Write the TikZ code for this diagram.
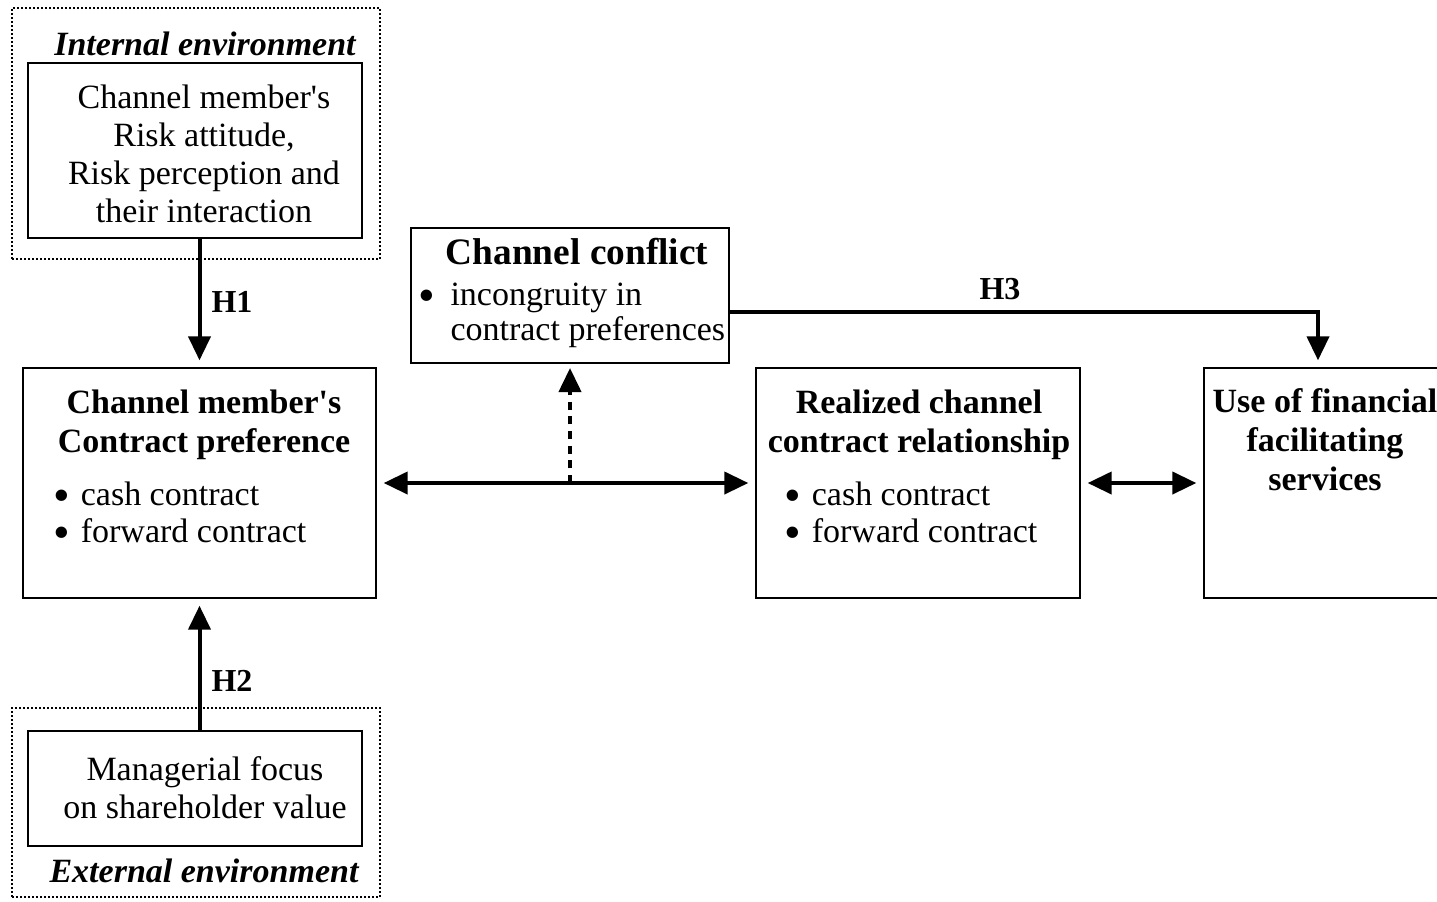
\documentclass[tikz,border=0pt]{standalone}
\usepackage{fontspec}
\setmainfont{Liberation Serif}
\usetikzlibrary{arrows.meta}

\tikzset{every picture/.style={line width=0.75pt}}
\tikzset{
	framebox/.style={draw, line width=1.5pt, inner sep=0pt},
	envframe/.style={draw, line width=1.5pt, dash pattern=on 1.5pt off 1.5pt, inner sep=0pt},
	bodytext/.style={inner sep=0pt, font=\fontsize{25.5pt}{28.5pt}\selectfont},
	listtext/.style={inner sep=0pt, align=left, font=\fontsize{25.5pt}{27.75pt}\selectfont},
	headtext/.style={inner sep=0pt, align=center, font=\fontsize{25.5pt}{29.25pt}\selectfont\bfseries},
	envtext/.style={inner sep=0pt, font=\fontsize{25.5pt}{28.5pt}\selectfont\bfseries\itshape},
	hyplabel/.style={inner sep=0pt, font=\fontsize{24pt}{28pt}\selectfont\bfseries},
	bigtip/.tip={Triangle[length=18pt,width=16.5pt]},
	causal/.style={line width=3pt, -bigtip, shorten >=5pt},
	mutual/.style={line width=3pt, bigtip-bigtip, shorten >=5pt, shorten <=5pt},
	effect/.style={line width=3pt, dash pattern=on 6pt off 5pt, -bigtip, shorten >=3pt},
}
\newcommand{\bigdot}{\smash{\raisebox{-4.5pt}{\scalebox{1.4}{\textbullet}}}}
\newcommand{\listdot}{\bigdot\hspace{8pt}}

\begin{document}
\begin{tikzpicture}[x=0.75pt,y=0.75pt,yscale=-1,xscale=1]
	\useasboundingbox (0,0) rectangle (1437,901);

	% Internal environment
	\node[envframe, minimum width=276pt, minimum height=188.25pt] (intframe) at (196,133.5) {};
	\node[envtext, anchor=base] (inttitle) at (205,55) {Internal environment};
	\node[framebox, minimum width=250.5pt, minimum height=131.25pt] (riskbox) at (195,150.5) {};
	\node[bodytext, align=center, anchor=base] (risktext) at (204,222) {Channel member\textquotesingle s\\Risk attitude,\\Risk perception and\\their interaction};

	% Contract preference
	\node[framebox, minimum width=264.75pt, minimum height=172.5pt] (prefbox) at (199.5,483) {};
	\node[headtext, anchor=base] (preftitle) at (204,452) {Channel member\textquotesingle s\\Contract preference};
	\node[listtext, anchor=base west] (preflist) at (53,542) {\listdot cash contract\\\listdot forward contract};

	% Channel conflict
	\node[framebox, minimum width=238.5pt, minimum height=101.25pt] (conflictbox) at (570,295.5) {};
	\node[inner sep=0pt, font=\fontsize{28pt}{32pt}\selectfont\bfseries, anchor=base] (conflicttitle) at (577,264) {Channel conflict};
	\node[bodytext, anchor=base west] (conflictdot) at (418,305) {\bigdot};
	\node[listtext, font=\fontsize{25.5pt}{26.25pt}\selectfont, anchor=base west] (conflictlist) at (450,340) {incongruity in\\contract preferences};

	% Realized relationship
	\node[framebox, minimum width=243pt, minimum height=172.5pt] (realbox) at (918,483) {};
	\node[headtext, anchor=base] (realtitle) at (919,452) {Realized channel\\contract relationship};
	\node[listtext, anchor=base west] (reallist) at (784,542) {\listdot cash contract\\\listdot forward contract};

	% Financial services
	\node[framebox, minimum width=181.5pt, minimum height=172.5pt] (usebox) at (1325,483) {};
	\node[headtext, anchor=base] (usetitle) at (1325,490) {Use of financial\\facilitating\\services};

	% External environment
	\node[envframe, minimum width=276pt, minimum height=141.75pt] (extframe) at (196,802.5) {};
	\node[framebox, minimum width=250.5pt, minimum height=86.25pt] (envbox) at (195,788.5) {};
	\node[bodytext, align=center, anchor=base] (envtext) at (205,818) {Managerial focus\\on shareholder value};
	\node[envtext, anchor=base] (exttitle) at (204,882) {External environment};

	% Hypotheses
	\draw[causal] (prefbox.north |- riskbox.south) -- (prefbox.north);
	\node[hyplabel, anchor=base] (hone) at (232,312) {H1};
	\draw[causal] (prefbox.south |- envbox.north) -- (prefbox.south);
	\node[hyplabel, anchor=base] (htwo) at (232,691) {H2};
	\draw[causal] ([yshift=12.4pt]conflictbox.east) -| ([xshift=-5.25pt]usebox.north);
	\node[hyplabel, anchor=base] (hthree) at (1000,299) {H3};
	\draw[mutual] (prefbox.east) -- (realbox.west);
	\draw[effect] (conflictbox.south |- prefbox.east) -- (conflictbox.south);
	\draw[mutual] (realbox.east) -- (usebox.west);
\end{tikzpicture}
\end{document}
